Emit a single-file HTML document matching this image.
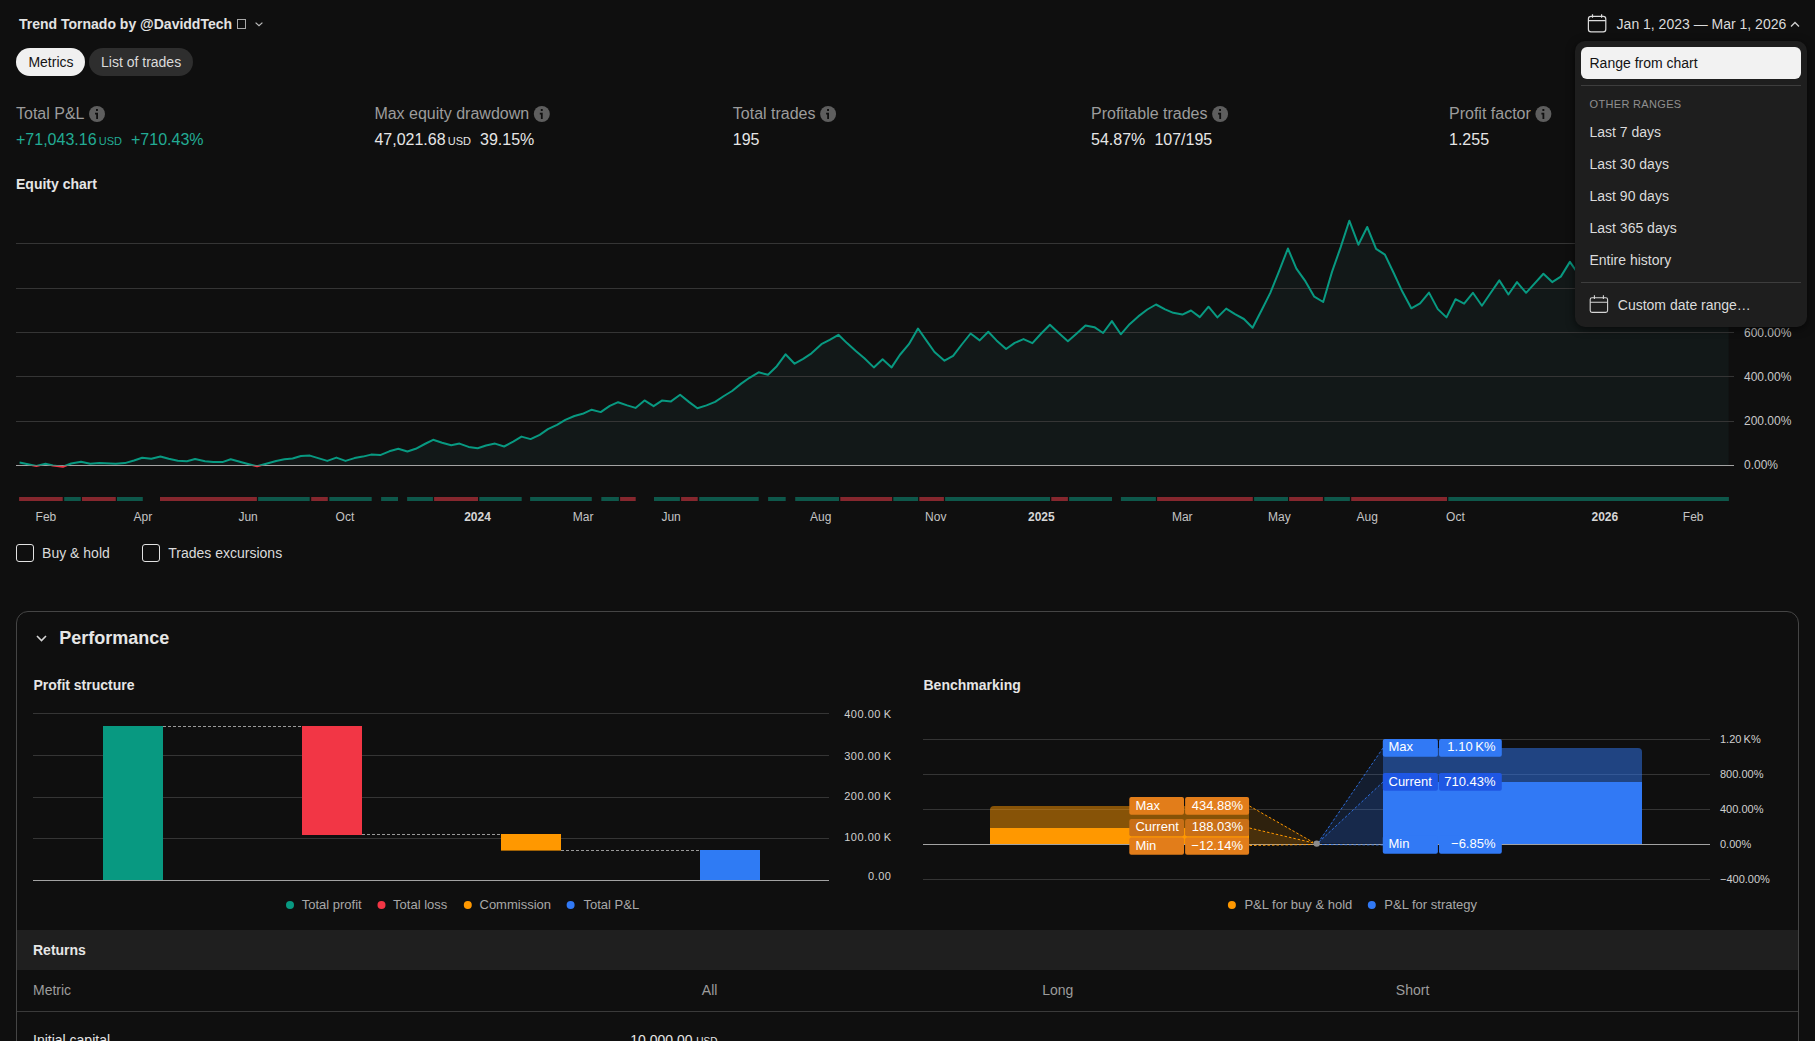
<!DOCTYPE html><html><head><meta charset="utf-8"><style>
*{margin:0;padding:0;box-sizing:border-box}
html,body{width:1815px;height:1041px;overflow:hidden;background:#0f0f0f;font-family:"Liberation Sans",sans-serif;color:#dbdbdb}
.t{position:absolute;line-height:1;white-space:nowrap}
.a{position:absolute}
.g{color:#9c9c9c}
.usd{font-size:11px}
svg{position:absolute;left:0;top:0}
</style></head><body>
<div class="t " style="left:19px;top:16.65px;font-size:14px;font-weight:700;color:#e3e3e3">Trend Tornado by @DaviddTech</div>
<div class="a" style="left:237px;top:19px;width:9px;height:10px;border:1px solid #a8a8a8"></div><svg width="1815" height="60" style="top:0"><path d="M255.6 22.6 L259 25.8 L262.4 22.6" fill="none" stroke="#bdbdbd" stroke-width="1.2"/></svg><div class="a" style="left:16px;top:48px;width:69px;height:28px;border-radius:14px;background:#f0f0f0"></div><div class="t " style="left:28.4px;top:55.15px;font-size:14px;color:#141414">Metrics</div>
<div class="a" style="left:89px;top:48px;width:103.5px;height:28px;border-radius:14px;background:#2e2e2e"></div><div class="t " style="left:101px;top:55.15px;font-size:14px;color:#dbdbdb">List of trades</div>
<svg width="1815" height="40"><g fill="none" stroke="#dcdcdc" stroke-width="1.2">
<rect x="1588.4" y="16.3" width="17.4" height="15.5" rx="2.6"/><path d="M1588.4 20.6 H1605.8 M1592.5 14.2 V17.8 M1601.6 14.2 V17.8"/></g>
<path d="M1791 26.5 L1795 22.5 L1799 26.5" fill="none" stroke="#cfcfcf" stroke-width="1.3"/></svg><div class="t " style="left:1616.6px;top:17.35px;font-size:14px;color:#dbdbdb">Jan 1, 2023 — Mar 1, 2026</div>
<div class="t g" style="left:16px;top:105.76px;font-size:16px;">Total P&amp;L</div>
<svg width="1815" height="140"><circle cx="97.0" cy="114" r="8" fill="#5e5e5e"/><rect x="96.0" y="109" width="1.9" height="2" fill="#0f0f0f"/><path d="M95.0 113.6 H97.1 V119" fill="none" stroke="#0f0f0f" stroke-width="1.8"/></svg><div class="t g" style="left:374.4px;top:105.76px;font-size:16px;">Max equity drawdown</div>
<svg width="1815" height="140"><circle cx="541.8" cy="114" r="8" fill="#5e5e5e"/><rect x="540.8" y="109" width="1.9" height="2" fill="#0f0f0f"/><path d="M539.8 113.6 H541.8 V119" fill="none" stroke="#0f0f0f" stroke-width="1.8"/></svg><div class="t g" style="left:732.8px;top:105.76px;font-size:16px;">Total trades</div>
<svg width="1815" height="140"><circle cx="828.1" cy="114" r="8" fill="#5e5e5e"/><rect x="827.1" y="109" width="1.9" height="2" fill="#0f0f0f"/><path d="M826.1 113.6 H828.1 V119" fill="none" stroke="#0f0f0f" stroke-width="1.8"/></svg><div class="t g" style="left:1091px;top:105.76px;font-size:16px;">Profitable trades</div>
<svg width="1815" height="140"><circle cx="1220.1" cy="114" r="8" fill="#5e5e5e"/><rect x="1219.1" y="109" width="1.9" height="2" fill="#0f0f0f"/><path d="M1218.1 113.6 H1220.2 V119" fill="none" stroke="#0f0f0f" stroke-width="1.8"/></svg><div class="t g" style="left:1449px;top:105.76px;font-size:16px;">Profit factor</div>
<svg width="1815" height="140"><circle cx="1543.4" cy="114" r="8" fill="#5e5e5e"/><rect x="1542.4" y="109" width="1.9" height="2" fill="#0f0f0f"/><path d="M1541.4 113.6 H1543.4 V119" fill="none" stroke="#0f0f0f" stroke-width="1.8"/></svg><div class="t " style="left:16px;top:131.86px;font-size:16px;color:#22ab94">+71,043.16</div>
<div class="t " style="left:98.69375px;top:136.09px;font-size:11px;color:#22ab94">USD</div>
<div class="t " style="left:131.0125px;top:131.86px;font-size:16px;color:#22ab94">+710.43%</div>
<div class="t " style="left:374.4px;top:131.86px;font-size:16px;color:#e6e6e6">47,021.68</div>
<div class="t " style="left:447.75px;top:136.09px;font-size:11px;color:#e6e6e6">USD</div>
<div class="t " style="left:480.06875px;top:131.86px;font-size:16px;color:#e6e6e6">39.15%</div>
<div class="t " style="left:732.8px;top:131.86px;font-size:16px;color:#e6e6e6">195</div>
<div class="t " style="left:1091px;top:131.86px;font-size:16px;color:#e6e6e6">54.87%</div>
<div class="t " style="left:1154.4125px;top:131.86px;font-size:16px;color:#e6e6e6">107/195</div>
<div class="t " style="left:1449px;top:131.86px;font-size:16px;color:#e6e6e6">1.255</div>
<div class="t " style="left:16px;top:177.35px;font-size:14px;font-weight:700;color:#e6e6e6">Equity chart</div>
<svg width="1815" height="600">
<defs><clipPath id="neg"><rect x="0" y="465.8" width="1815" height="20"/></clipPath><clipPath id="pos"><rect x="0" y="150" width="1815" height="315.8"/></clipPath></defs>
<path d="M19.6,465.3 L19.6,462.6 L36.4,466.0 L45.5,463.8 L53.0,465.5 L62.9,466.8 L71.2,463.5 L81.0,461.8 L90.2,463.8 L99.3,463.1 L115.8,463.8 L124.9,463.1 L134.0,460.5 L142.2,457.7 L151.3,458.8 L160.4,456.5 L168.7,458.8 L177.8,460.7 L186.9,461.3 L195.1,459.0 L205.0,461.3 L213.3,462.1 L222.4,462.1 L230.7,459.3 L239.8,461.8 L248.0,464.0 L257.1,466.3 L266.2,463.8 L276.1,461.0 L284.4,459.3 L292.6,458.5 L300.9,456.0 L309.9,455.6 L327.3,460.9 L336.4,457.6 L345.5,460.9 L354.5,458.1 L362.8,456.6 L371.1,454.6 L380.2,455.1 L389.3,451.3 L398.3,448.8 L407.4,451.5 L415.7,448.8 L424.8,444.0 L433.1,439.8 L442.1,442.7 L451.2,445.2 L459.5,443.6 L468.6,446.9 L477.7,448.2 L486.0,445.5 L495.0,443.6 L504.1,446.5 L513.2,441.6 L521.5,436.6 L530.6,439.1 L539.7,434.8 L547.9,429.2 L557.0,424.9 L565.3,419.9 L574.4,416.0 L582.6,413.8 L591.7,409.7 L600.7,412.1 L609.8,405.9 L618.1,402.2 L627.2,405.4 L635.5,407.9 L644.5,400.4 L653.6,406.2 L661.9,400.6 L671.0,401.4 L680.1,394.8 L689.2,402.1 L697.4,408.3 L706.5,405.4 L715.1,401.9 L723.9,396.0 L732.1,391.0 L741.2,383.6 L749.5,377.8 L758.6,372.3 L768.0,374.8 L776.8,366.2 L785.5,354.3 L794.6,363.7 L803.2,358.8 L811.5,353.3 L821.4,344.2 L829.7,339.8 L838.4,334.8 L847.0,343.1 L856.1,351.3 L864.4,358.3 L873.8,367.4 L882.6,359.3 L891.6,367.4 L899.8,355.0 L908.9,344.2 L918.0,328.5 L926.3,340.4 L934.5,352.0 L944.5,360.7 L953.1,355.8 L961.8,344.5 L970.6,333.5 L979.7,340.4 L988.3,331.8 L996.5,340.4 L1006.1,349.0 L1014.7,342.9 L1023.5,339.1 L1032.4,343.2 L1041.2,333.5 L1049.9,324.7 L1059.0,333.3 L1067.9,341.2 L1076.7,333.5 L1085.5,325.5 L1094.4,327.2 L1103.1,333.0 L1111.9,321.1 L1120.8,334.3 L1129.6,324.2 L1138.3,316.4 L1147.3,309.5 L1156.0,304.5 L1165.1,309.3 L1173.3,312.8 L1182.4,314.6 L1191.0,310.5 L1199.8,317.1 L1208.5,306.7 L1217.4,317.4 L1226.2,308.6 L1235.0,314.1 L1243.9,319.0 L1252.6,327.8 L1261.7,310.0 L1270.3,292.9 L1279.1,271.1 L1287.9,248.5 L1296.4,268.6 L1305.5,281.4 L1314.3,296.7 L1323.2,302.0 L1332.0,271.9 L1340.7,247.1 L1349.3,220.7 L1358.4,244.7 L1367.2,227.0 L1376.1,248.8 L1384.9,254.6 L1393.6,272.8 L1402.2,291.3 L1411.3,308.3 L1420.1,303.3 L1429.0,292.6 L1437.8,309.1 L1446.5,317.4 L1455.5,299.2 L1464.1,303.6 L1472.9,292.8 L1481.9,305.7 L1490.6,293.0 L1499.3,280.4 L1508.4,294.5 L1517.0,282.1 L1526.1,292.8 L1534.7,283.3 L1543.4,273.8 L1552.2,282.1 L1560.8,276.6 L1569.9,261.9 L1578.7,274.5 L1587.0,268.0 L1596.0,262.0 L1605.0,270.0 L1614.0,258.0 L1623.0,266.0 L1632.0,252.0 L1641.0,262.0 L1650.0,255.0 L1659.0,266.0 L1668.0,250.0 L1677.0,260.0 L1686.0,248.0 L1695.0,258.0 L1704.0,252.0 L1713.0,264.0 L1720.0,256.0 L1728.6,260.0 L1728.6,465.3 Z" fill="#121818" clip-path="url(#pos)"/>
<rect x="16" y="243" width="1718" height="1" fill="#353535"/>
<rect x="16" y="288" width="1718" height="1" fill="#353535"/>
<rect x="16" y="332" width="1718" height="1" fill="#353535"/>
<rect x="16" y="376" width="1718" height="1" fill="#353535"/>
<rect x="16" y="421" width="1718" height="1" fill="#353535"/>
<rect x="16" y="465" width="1718" height="1" fill="#a3a3a3"/>
<polyline points="19.6,462.6 36.4,466.0 45.5,463.8 53.0,465.5 62.9,466.8 71.2,463.5 81.0,461.8 90.2,463.8 99.3,463.1 115.8,463.8 124.9,463.1 134.0,460.5 142.2,457.7 151.3,458.8 160.4,456.5 168.7,458.8 177.8,460.7 186.9,461.3 195.1,459.0 205.0,461.3 213.3,462.1 222.4,462.1 230.7,459.3 239.8,461.8 248.0,464.0 257.1,466.3 266.2,463.8 276.1,461.0 284.4,459.3 292.6,458.5 300.9,456.0 309.9,455.6 327.3,460.9 336.4,457.6 345.5,460.9 354.5,458.1 362.8,456.6 371.1,454.6 380.2,455.1 389.3,451.3 398.3,448.8 407.4,451.5 415.7,448.8 424.8,444.0 433.1,439.8 442.1,442.7 451.2,445.2 459.5,443.6 468.6,446.9 477.7,448.2 486.0,445.5 495.0,443.6 504.1,446.5 513.2,441.6 521.5,436.6 530.6,439.1 539.7,434.8 547.9,429.2 557.0,424.9 565.3,419.9 574.4,416.0 582.6,413.8 591.7,409.7 600.7,412.1 609.8,405.9 618.1,402.2 627.2,405.4 635.5,407.9 644.5,400.4 653.6,406.2 661.9,400.6 671.0,401.4 680.1,394.8 689.2,402.1 697.4,408.3 706.5,405.4 715.1,401.9 723.9,396.0 732.1,391.0 741.2,383.6 749.5,377.8 758.6,372.3 768.0,374.8 776.8,366.2 785.5,354.3 794.6,363.7 803.2,358.8 811.5,353.3 821.4,344.2 829.7,339.8 838.4,334.8 847.0,343.1 856.1,351.3 864.4,358.3 873.8,367.4 882.6,359.3 891.6,367.4 899.8,355.0 908.9,344.2 918.0,328.5 926.3,340.4 934.5,352.0 944.5,360.7 953.1,355.8 961.8,344.5 970.6,333.5 979.7,340.4 988.3,331.8 996.5,340.4 1006.1,349.0 1014.7,342.9 1023.5,339.1 1032.4,343.2 1041.2,333.5 1049.9,324.7 1059.0,333.3 1067.9,341.2 1076.7,333.5 1085.5,325.5 1094.4,327.2 1103.1,333.0 1111.9,321.1 1120.8,334.3 1129.6,324.2 1138.3,316.4 1147.3,309.5 1156.0,304.5 1165.1,309.3 1173.3,312.8 1182.4,314.6 1191.0,310.5 1199.8,317.1 1208.5,306.7 1217.4,317.4 1226.2,308.6 1235.0,314.1 1243.9,319.0 1252.6,327.8 1261.7,310.0 1270.3,292.9 1279.1,271.1 1287.9,248.5 1296.4,268.6 1305.5,281.4 1314.3,296.7 1323.2,302.0 1332.0,271.9 1340.7,247.1 1349.3,220.7 1358.4,244.7 1367.2,227.0 1376.1,248.8 1384.9,254.6 1393.6,272.8 1402.2,291.3 1411.3,308.3 1420.1,303.3 1429.0,292.6 1437.8,309.1 1446.5,317.4 1455.5,299.2 1464.1,303.6 1472.9,292.8 1481.9,305.7 1490.6,293.0 1499.3,280.4 1508.4,294.5 1517.0,282.1 1526.1,292.8 1534.7,283.3 1543.4,273.8 1552.2,282.1 1560.8,276.6 1569.9,261.9 1578.7,274.5 1587.0,268.0 1596.0,262.0 1605.0,270.0 1614.0,258.0 1623.0,266.0 1632.0,252.0 1641.0,262.0 1650.0,255.0 1659.0,266.0 1668.0,250.0 1677.0,260.0 1686.0,248.0 1695.0,258.0 1704.0,252.0 1713.0,264.0 1720.0,256.0 1728.6,260.0" fill="none" stroke="#089981" stroke-width="2" stroke-linejoin="round" clip-path="url(#pos)"/>
<polyline points="19.6,462.6 36.4,466.0 45.5,463.8 53.0,465.5 62.9,466.8 71.2,463.5 81.0,461.8 90.2,463.8 99.3,463.1 115.8,463.8 124.9,463.1 134.0,460.5 142.2,457.7 151.3,458.8 160.4,456.5 168.7,458.8 177.8,460.7 186.9,461.3 195.1,459.0 205.0,461.3 213.3,462.1 222.4,462.1 230.7,459.3 239.8,461.8 248.0,464.0 257.1,466.3 266.2,463.8 276.1,461.0 284.4,459.3 292.6,458.5 300.9,456.0 309.9,455.6 327.3,460.9 336.4,457.6 345.5,460.9 354.5,458.1 362.8,456.6 371.1,454.6 380.2,455.1 389.3,451.3 398.3,448.8 407.4,451.5 415.7,448.8 424.8,444.0 433.1,439.8 442.1,442.7 451.2,445.2 459.5,443.6 468.6,446.9 477.7,448.2 486.0,445.5 495.0,443.6 504.1,446.5 513.2,441.6 521.5,436.6 530.6,439.1 539.7,434.8 547.9,429.2 557.0,424.9 565.3,419.9 574.4,416.0 582.6,413.8 591.7,409.7 600.7,412.1 609.8,405.9 618.1,402.2 627.2,405.4 635.5,407.9 644.5,400.4 653.6,406.2 661.9,400.6 671.0,401.4 680.1,394.8 689.2,402.1 697.4,408.3 706.5,405.4 715.1,401.9 723.9,396.0 732.1,391.0 741.2,383.6 749.5,377.8 758.6,372.3 768.0,374.8 776.8,366.2 785.5,354.3 794.6,363.7 803.2,358.8 811.5,353.3 821.4,344.2 829.7,339.8 838.4,334.8 847.0,343.1 856.1,351.3 864.4,358.3 873.8,367.4 882.6,359.3 891.6,367.4 899.8,355.0 908.9,344.2 918.0,328.5 926.3,340.4 934.5,352.0 944.5,360.7 953.1,355.8 961.8,344.5 970.6,333.5 979.7,340.4 988.3,331.8 996.5,340.4 1006.1,349.0 1014.7,342.9 1023.5,339.1 1032.4,343.2 1041.2,333.5 1049.9,324.7 1059.0,333.3 1067.9,341.2 1076.7,333.5 1085.5,325.5 1094.4,327.2 1103.1,333.0 1111.9,321.1 1120.8,334.3 1129.6,324.2 1138.3,316.4 1147.3,309.5 1156.0,304.5 1165.1,309.3 1173.3,312.8 1182.4,314.6 1191.0,310.5 1199.8,317.1 1208.5,306.7 1217.4,317.4 1226.2,308.6 1235.0,314.1 1243.9,319.0 1252.6,327.8 1261.7,310.0 1270.3,292.9 1279.1,271.1 1287.9,248.5 1296.4,268.6 1305.5,281.4 1314.3,296.7 1323.2,302.0 1332.0,271.9 1340.7,247.1 1349.3,220.7 1358.4,244.7 1367.2,227.0 1376.1,248.8 1384.9,254.6 1393.6,272.8 1402.2,291.3 1411.3,308.3 1420.1,303.3 1429.0,292.6 1437.8,309.1 1446.5,317.4 1455.5,299.2 1464.1,303.6 1472.9,292.8 1481.9,305.7 1490.6,293.0 1499.3,280.4 1508.4,294.5 1517.0,282.1 1526.1,292.8 1534.7,283.3 1543.4,273.8 1552.2,282.1 1560.8,276.6 1569.9,261.9 1578.7,274.5 1587.0,268.0 1596.0,262.0 1605.0,270.0 1614.0,258.0 1623.0,266.0 1632.0,252.0 1641.0,262.0 1650.0,255.0 1659.0,266.0 1668.0,250.0 1677.0,260.0 1686.0,248.0 1695.0,258.0 1704.0,252.0 1713.0,264.0 1720.0,256.0 1728.6,260.0" fill="none" stroke="#f23645" stroke-width="2" stroke-linejoin="round" clip-path="url(#neg)"/>
<rect x="19.1" y="497" width="43.6" height="4" fill="#86272e"/>
<rect x="64.2" y="497" width="16.6" height="4" fill="#0e584b"/>
<rect x="82" y="497" width="33.8" height="4" fill="#86272e"/>
<rect x="117" y="497" width="25.8" height="4" fill="#0e584b"/>
<rect x="160" y="497" width="96.9" height="4" fill="#86272e"/>
<rect x="258.1" y="497" width="51.6" height="4" fill="#0e584b"/>
<rect x="311.2" y="497" width="16.6" height="4" fill="#86272e"/>
<rect x="329.3" y="497" width="42.4" height="4" fill="#0e584b"/>
<rect x="381.1" y="497" width="16.9" height="4" fill="#0e584b"/>
<rect x="407.1" y="497" width="25.8" height="4" fill="#0e584b"/>
<rect x="434.1" y="497" width="43.9" height="4" fill="#86272e"/>
<rect x="479.3" y="497" width="42.4" height="4" fill="#0e584b"/>
<rect x="530.1" y="497" width="61.7" height="4" fill="#0e584b"/>
<rect x="601.3" y="497" width="17.6" height="4" fill="#0e584b"/>
<rect x="620.1" y="497" width="15.6" height="4" fill="#86272e"/>
<rect x="654" y="497" width="25.9" height="4" fill="#0e584b"/>
<rect x="681.1" y="497" width="16.6" height="4" fill="#86272e"/>
<rect x="699.2" y="497" width="59.5" height="4" fill="#0e584b"/>
<rect x="768.1" y="497" width="17.6" height="4" fill="#0e584b"/>
<rect x="795.2" y="497" width="43.8" height="4" fill="#0e584b"/>
<rect x="840.3" y="497" width="51.8" height="4" fill="#86272e"/>
<rect x="893.3" y="497" width="24.8" height="4" fill="#0e584b"/>
<rect x="919.3" y="497" width="24.6" height="4" fill="#86272e"/>
<rect x="945.1" y="497" width="104.9" height="4" fill="#0e584b"/>
<rect x="1051.3" y="497" width="16.6" height="4" fill="#86272e"/>
<rect x="1069.1" y="497" width="42.9" height="4" fill="#0e584b"/>
<rect x="1120.9" y="497" width="35.0" height="4" fill="#0e584b"/>
<rect x="1157.1" y="497" width="95.7" height="4" fill="#86272e"/>
<rect x="1254.1" y="497" width="33.9" height="4" fill="#0e584b"/>
<rect x="1289.1" y="497" width="33.8" height="4" fill="#86272e"/>
<rect x="1324.3" y="497" width="25.6" height="4" fill="#0e584b"/>
<rect x="1351.2" y="497" width="95.8" height="4" fill="#86272e"/>
<rect x="1448.3" y="497" width="280.6" height="4" fill="#0e584b"/>
</svg><div class="t " style="left:1744px;top:459.44px;font-size:12px;color:#c8c8c8">0.00%</div>
<div class="t " style="left:1744px;top:415.14px;font-size:12px;color:#c8c8c8">200.00%</div>
<div class="t " style="left:1744px;top:370.64px;font-size:12px;color:#c8c8c8">400.00%</div>
<div class="t " style="left:1744px;top:326.64px;font-size:12px;color:#c8c8c8">600.00%</div>
<div class="t " style="left:1744px;top:282.14px;font-size:12px;color:#c8c8c8">800.00%</div>
<div class="t " style="left:1744px;top:237.64px;font-size:12px;color:#c8c8c8">1000.00%</div>
<div class="t " style="left:35.6px;top:511.24px;font-size:12px;color:#c4c4c4">Feb</div>
<div class="t " style="left:133.6px;top:511.24px;font-size:12px;color:#c4c4c4">Apr</div>
<div class="t " style="left:238.4px;top:511.24px;font-size:12px;color:#c4c4c4">Jun</div>
<div class="t " style="left:335.6px;top:511.24px;font-size:12px;color:#c4c4c4">Oct</div>
<div class="t " style="left:464.20000000000005px;top:511.24px;font-size:12px;font-weight:700;color:#d6d6d6">2024</div>
<div class="t " style="left:572.8000000000001px;top:511.24px;font-size:12px;color:#c4c4c4">Mar</div>
<div class="t " style="left:661.4px;top:511.24px;font-size:12px;color:#c4c4c4">Jun</div>
<div class="t " style="left:810.1px;top:511.24px;font-size:12px;color:#c4c4c4">Aug</div>
<div class="t " style="left:925.1px;top:511.24px;font-size:12px;color:#c4c4c4">Nov</div>
<div class="t " style="left:1028.0px;top:511.24px;font-size:12px;font-weight:700;color:#d6d6d6">2025</div>
<div class="t " style="left:1171.8999999999999px;top:511.24px;font-size:12px;color:#c4c4c4">Mar</div>
<div class="t " style="left:1268.1px;top:511.24px;font-size:12px;color:#c4c4c4">May</div>
<div class="t " style="left:1356.6px;top:511.24px;font-size:12px;color:#c4c4c4">Aug</div>
<div class="t " style="left:1446.1px;top:511.24px;font-size:12px;color:#c4c4c4">Oct</div>
<div class="t " style="left:1591.5px;top:511.24px;font-size:12px;font-weight:700;color:#d6d6d6">2026</div>
<div class="t " style="left:1682.8px;top:511.24px;font-size:12px;color:#c4c4c4">Feb</div>
<div class="a" style="left:16px;top:544px;width:18px;height:18px;border:1.5px solid #e2e2e2;border-radius:3px"></div><div class="t " style="left:42.1px;top:546.25px;font-size:14px;color:#dbdbdb">Buy &amp; hold</div>
<div class="a" style="left:142px;top:544px;width:18px;height:18px;border:1.5px solid #e2e2e2;border-radius:3px"></div><div class="t " style="left:168.3px;top:546.25px;font-size:14px;color:#dbdbdb">Trades excursions</div>
<div class="a" style="left:16px;top:611px;width:1783px;height:600px;border:1px solid #454545;border-radius:12px"></div><svg width="1815" height="1041"><path d="M37 636 L41.5 640.5 L46 636" fill="none" stroke="#d6d6d6" stroke-width="1.6"/></svg><div class="t " style="left:59.2px;top:629.26px;font-size:18px;font-weight:700;color:#e6e6e6">Performance</div>
<div class="t " style="left:33.4px;top:677.65px;font-size:14px;font-weight:700;color:#e6e6e6">Profit structure</div>
<div class="t " style="left:923.5px;top:677.65px;font-size:14px;font-weight:700;color:#e6e6e6">Benchmarking</div>
<svg width="1815" height="1041">
<rect x="33" y="713" width="796" height="1" fill="#353535"/>
<rect x="33" y="755" width="796" height="1" fill="#353535"/>
<rect x="33" y="797" width="796" height="1" fill="#353535"/>
<rect x="33" y="838" width="796" height="1" fill="#353535"/>
<rect x="33" y="880" width="796" height="1" fill="#a3a3a3"/>
<rect x="103" y="726" width="60" height="154" fill="#089981"/>
<rect x="302" y="726" width="60" height="109" fill="#f23645"/>
<rect x="501" y="834" width="60" height="16.6" fill="#ff9800"/>
<rect x="700" y="850" width="60" height="30" fill="#2f7bf4"/>
<path d="M163 726.5 H302 M362 834.5 H501 M561 850.5 H700" stroke="#9a9a9a" stroke-width="1" stroke-dasharray="3 2"/>
<rect x="923" y="739" width="787" height="1" fill="#353535"/>
<rect x="923" y="774" width="787" height="1" fill="#353535"/>
<rect x="923" y="809" width="787" height="1" fill="#353535"/>
<rect x="923" y="879" width="787" height="1" fill="#353535"/>
<path d="M990 844 V810 a4 4 0 0 1 4 -4 H1245 a4 4 0 0 1 4 4 V844 Z" fill="#ff9800" fill-opacity="0.5"/>
<rect x="990" y="828" width="259" height="16" fill="#ff9800"/>
<path d="M1383 844 V752 a4 4 0 0 1 4 -4 H1638 a4 4 0 0 1 4 4 V844 Z" fill="#3179f5" fill-opacity="0.5"/>
<rect x="1383" y="782" width="259" height="62" fill="#3179f5"/>
<rect x="923" y="844" width="787" height="1" fill="#a3a3a3"/>
<path d="M1249 805.5 L1316.7 843.6 L1249 845 Z" fill="#ff9800" fill-opacity="0.13"/>
<path d="M1249 827.8 L1316.7 843.6 L1249 845 Z" fill="#ff9800" fill-opacity="0.13"/>
<path d="M1249.5 806 L1313 842.3 M1249.5 828 L1313 842.8 M1249.5 845.5 L1313 844.5" stroke="#ff9800" stroke-width="1" stroke-dasharray="2.5 2" fill="none"/>
<path d="M1383 748 L1316.7 843.6 L1383 844 Z" fill="#3179f5" fill-opacity="0.14"/>
<path d="M1383 782 L1316.7 843.6 L1383 844 Z" fill="#3179f5" fill-opacity="0.14"/>
<path d="M1383 748 L1319 841.5 M1383 782 L1319 842 M1383 845 L1319 844.5" stroke="#3179f5" stroke-opacity="0.85" stroke-width="1" stroke-dasharray="2.5 2" fill="none"/>
<circle cx="1316.7" cy="843.6" r="3.2" fill="#8c8c8c"/>
<rect x="1129.3" y="797" width="54.7" height="17.7" rx="2" fill="#e27d1a"/>
<rect x="1185.1" y="797" width="64" height="17.7" rx="2" fill="#e27d1a"/>
<rect x="1129.3" y="819" width="54.7" height="17.3" rx="2" fill="#c96f17"/>
<rect x="1185.1" y="819" width="64" height="17.3" rx="2" fill="#c96f17"/>
<rect x="1129.3" y="837.4" width="54.7" height="17.4" rx="2" fill="#e27d1a"/>
<rect x="1185.1" y="837.4" width="64" height="17.4" rx="2" fill="#e27d1a"/>
<rect x="1382.8" y="739.1" width="55.1" height="17.7" rx="2" fill="#3179f5"/>
<rect x="1439" y="739.1" width="62.8" height="17.7" rx="2" fill="#3179f5"/>
<rect x="1382.8" y="773.1" width="55.1" height="17.6" rx="2" fill="#1f57e3"/>
<rect x="1439" y="773.1" width="62.8" height="17.6" rx="2" fill="#1f57e3"/>
<rect x="1382.8" y="835.8" width="55.1" height="18.0" rx="2" fill="#3179f5"/>
<rect x="1439" y="835.8" width="62.8" height="18.0" rx="2" fill="#3179f5"/>
<circle cx="290" cy="905" r="4" fill="#089981"/>
<circle cx="381.5" cy="905" r="4" fill="#f23645"/>
<circle cx="467.8" cy="905" r="4" fill="#ff9800"/>
<circle cx="570.6" cy="905" r="4" fill="#3179f5"/>
<circle cx="1231.9" cy="905" r="4" fill="#ff9800"/>
<circle cx="1371.8" cy="905" r="4" fill="#3179f5"/>
</svg><div class="t " style="right:923.5px;top:709.09px;font-size:11px;color:#cfcfcf;letter-spacing:0.5px;word-spacing:-0.8px">400.00 K</div>
<div class="t " style="right:923.5px;top:750.59px;font-size:11px;color:#cfcfcf;letter-spacing:0.5px;word-spacing:-0.8px">300.00 K</div>
<div class="t " style="right:923.5px;top:790.59px;font-size:11px;color:#cfcfcf;letter-spacing:0.5px;word-spacing:-0.8px">200.00 K</div>
<div class="t " style="right:923.5px;top:831.59px;font-size:11px;color:#cfcfcf;letter-spacing:0.5px;word-spacing:-0.8px">100.00 K</div>
<div class="t " style="right:923.5px;top:871.09px;font-size:11px;color:#cfcfcf;letter-spacing:0.5px;word-spacing:-0.8px">0.00</div>
<div class="t " style="left:1720px;top:734.09px;font-size:11px;color:#cfcfcf">1.20 K%</div>
<div class="t " style="left:1720px;top:769.09px;font-size:11px;color:#cfcfcf">800.00%</div>
<div class="t " style="left:1720px;top:804.09px;font-size:11px;color:#cfcfcf">400.00%</div>
<div class="t " style="left:1720px;top:838.79px;font-size:11px;color:#cfcfcf">0.00%</div>
<div class="t " style="left:1720px;top:874.09px;font-size:11px;color:#cfcfcf">−400.00%</div>
<div class="t " style="left:1135.4px;top:798.60px;font-size:13px;color:#fff">Max</div>
<div class="t " style="left:1135.4px;top:820.30px;font-size:13px;color:#fff">Current</div>
<div class="t " style="left:1135.4px;top:839.00px;font-size:13px;color:#fff">Min</div>
<div class="t " style="right:572px;top:798.60px;font-size:13px;color:#fff">434.88%</div>
<div class="t " style="right:572px;top:820.30px;font-size:13px;color:#fff">188.03%</div>
<div class="t " style="right:572px;top:839.00px;font-size:13px;color:#fff">−12.14%</div>
<div class="t " style="left:1388.5px;top:740.20px;font-size:13px;color:#fff">Max</div>
<div class="t " style="left:1388.5px;top:775.00px;font-size:13px;color:#fff">Current</div>
<div class="t " style="left:1388.5px;top:837.20px;font-size:13px;color:#fff">Min</div>
<div class="t " style="right:319.5px;top:740.20px;font-size:13px;color:#fff">1.10 K%</div>
<div class="t " style="right:319.5px;top:775.00px;font-size:13px;color:#fff">710.43%</div>
<div class="t " style="right:319.5px;top:837.20px;font-size:13px;color:#fff">−6.85%</div>
<div class="t " style="left:301.7px;top:898.40px;font-size:13px;color:#a8a8a8">Total profit</div>
<div class="t " style="left:393.1px;top:898.40px;font-size:13px;color:#a8a8a8">Total loss</div>
<div class="t " style="left:479.5px;top:898.40px;font-size:13px;color:#a8a8a8">Commission</div>
<div class="t " style="left:583.5px;top:898.40px;font-size:13px;color:#a8a8a8">Total P&amp;L</div>
<div class="t " style="left:1244.4px;top:898.40px;font-size:13px;color:#a8a8a8">P&amp;L for buy &amp; hold</div>
<div class="t " style="left:1384.3px;top:898.40px;font-size:13px;color:#a8a8a8">P&amp;L for strategy</div>
<div class="a" style="left:17px;top:930px;width:1781px;height:40px;background:#1f1f1f"></div><div class="t " style="left:33px;top:942.55px;font-size:14px;font-weight:700;color:#e6e6e6">Returns</div>
<div class="t g" style="left:33px;top:983.15px;font-size:14px;">Metric</div>
<div class="t g" style="right:1097.6px;top:983.15px;font-size:14px;">All</div>
<div class="t g" style="right:741.7px;top:983.15px;font-size:14px;">Long</div>
<div class="t g" style="right:385.70000000000005px;top:983.15px;font-size:14px;">Short</div>
<div class="a" style="left:17px;top:1011px;width:1781px;height:1px;background:#3a3a3a"></div><div class="t " style="left:33px;top:1032.65px;font-size:14px;color:#e6e6e6">Initial capital</div>
<div class="t " style="right:1097.6px;top:1032.65px;font-size:14px;color:#e6e6e6">10,000.00<span style="font-size:10px;margin-left:3.8px">USD</span></div>
<div class="a" style="left:1575.3px;top:41px;width:231.4px;height:285.7px;border-radius:10px;background:#1e1e1e;box-shadow:0 2px 8px rgba(0,0,0,.6)"></div><div class="a" style="left:1580.8px;top:46.8px;width:220.2px;height:32.2px;border-radius:6px;background:#f2f2f2"></div><div class="t " style="left:1589.5px;top:56.05px;font-size:14px;color:#131313">Range from chart</div>
<div class="a" style="left:1581px;top:85px;width:220px;height:1px;background:#3d3d3d"></div><div class="t " style="left:1589.5px;top:98.79px;font-size:11px;color:#8f8f8f;letter-spacing:0.33px">OTHER RANGES</div>
<div class="t " style="left:1589.5px;top:124.85px;font-size:14px;color:#dbdbdb">Last 7 days</div>
<div class="t " style="left:1589.5px;top:156.85px;font-size:14px;color:#dbdbdb">Last 30 days</div>
<div class="t " style="left:1589.5px;top:188.85px;font-size:14px;color:#dbdbdb">Last 90 days</div>
<div class="t " style="left:1589.5px;top:220.85px;font-size:14px;color:#dbdbdb">Last 365 days</div>
<div class="t " style="left:1589.5px;top:252.85px;font-size:14px;color:#dbdbdb">Entire history</div>
<div class="a" style="left:1581px;top:282px;width:220px;height:1px;background:#3d3d3d"></div><svg width="1815" height="340"><g fill="none" stroke="#d6d6d6" stroke-width="1.1">
<rect x="1590.2" y="297.8" width="17.4" height="14.6" rx="1.8"/><path d="M1590.2 302.3 H1607.6 M1594.4 295.3 V299 M1603.4 295.3 V299"/></g></svg><div class="t " style="left:1617.8px;top:298.35px;font-size:14px;color:#dbdbdb">Custom date range…</div>
</body></html>
